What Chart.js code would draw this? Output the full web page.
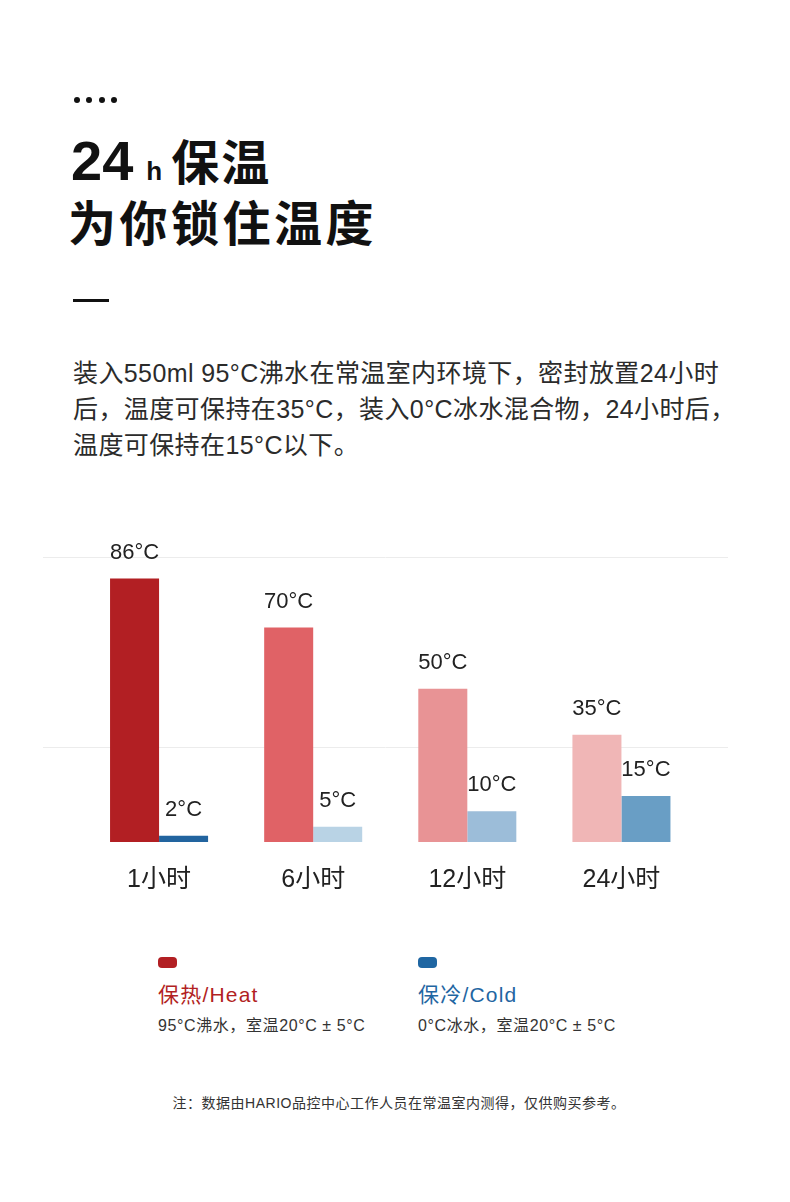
<!DOCTYPE html>
<html lang="zh-CN">
<head>
<meta charset="utf-8">
<title>24h保温</title>
<script src="https://cdn.jsdelivr.net/npm/chart.js@4.4.1/dist/chart.umd.min.js"></script>
<style>
  html, body { margin: 0; padding: 0; background: #fff; }
  body { width: 790px; height: 1202px; position: relative; overflow: hidden;
         font-family: "Liberation Sans", "Noto Sans CJK SC", sans-serif; color: #2b2b2b; }
  .abs { position: absolute; white-space: nowrap; }
  .dot { position: absolute; top: 97px; width: 6px; height: 6px; border-radius: 50%; background: #111; }
  #title1 { left: 71px; top: 124px; height: 60px; color: #111; }
  #title1 .num { font-size: 56px; font-weight: 700; line-height: 56px; }
  #title1 .h { font-size: 26px; font-weight: 700; margin: 0 9px 0 13px; }
  #title1 .cn { font-family: "Noto Sans CJK SC"; font-size: 48px; font-weight: 700; letter-spacing: 2px; }
  #title2 { left: 68px; top: 190px; font-family: "Noto Sans CJK SC"; font-size: 48px; font-weight: 700;
            letter-spacing: 3.5px; line-height: 60px; color: #111; }
  #dash { position: absolute; left: 73px; top: 299px; width: 36px; height: 3px; background: #111; }
  #intro { left: 73px; top: 355px; font-size: 25px; letter-spacing: 0.4px; line-height: 36px; color: #2b2b2b; }
  #chartBox { position: absolute; left: 0; top: 500px; width: 790px; height: 420px; }
  .swatch { position: absolute; top: 957px; width: 19px; height: 11px; border-radius: 4px; }
  .legName { top: 982px; font-size: 21px; letter-spacing: 1.2px; line-height: 26px; }
  .legSub { top: 1016px; font-size: 16px; letter-spacing: 0.6px; line-height: 20px; color: #333; }
  #note { left: 4px; width: 790px; text-align: center; top: 1093px; font-size: 14px; letter-spacing: 0.5px; line-height: 20px; color: #333; }
</style>
</head>
<body>
<div class="dot" style="left:74px"></div>
<div class="dot" style="left:86px"></div>
<div class="dot" style="left:99px"></div>
<div class="dot" style="left:111px"></div>

<div id="title1" class="abs"><span class="num">24</span><span class="h">h</span><span class="cn">保温</span></div>
<div id="title2" class="abs">为你锁住温度</div>
<div id="dash"></div>

<div id="intro" class="abs">装入550ml 95°C沸水在常温室内环境下，密封放置24小时<br>后，温度可保持在35°C，装入0°C冰水混合物，24小时后，<br>温度可保持在15°C以下。</div>

<div id="chartBox"><canvas id="tempChart"></canvas></div>

<div class="swatch" style="left:158px; background:#b21f23"></div>
<div class="abs legName" style="left:158px; color:#b21f23">保热/Heat</div>
<div class="abs legSub" style="left:158px">95°C沸水，室温20°C ± 5°C</div>

<div class="swatch" style="left:418px; background:#1f66a2"></div>
<div class="abs legName" style="left:418px; color:#1f66a2">保冷/Cold</div>
<div class="abs legSub" style="left:418px">0°C冰水，室温20°C ± 5°C</div>

<div id="note" class="abs">注：数据由HARIO品控中心工作人员在常温室内测得，仅供购买参考。</div>

<script>
// data
const categories = ['1小时', '6小时', '12小时', '24小时'];
const heatValues = [86, 70, 50, 35];
const coldValues = [2, 5, 10, 15];
const gridValues = [31, 93];

// one shade per bar, darkest first
const heatColors = ['#b21f23', '#e06266', '#e89395', '#f0b6b6'];
const coldColors = ['#22649f', '#b9d3e5', '#9cbdd9', '#699ec5'];

const labelFont = '22px "Liberation Sans", "Noto Sans CJK SC", sans-serif';

// faint horizontal lines that run wider than the plot area
const wideGrid = {
    id: 'wideGrid',
    beforeDatasetsDraw(chart) {
        const ctx = chart.ctx;
        const y = chart.scales.y;
        ctx.save();
        ctx.strokeStyle = '#ececec';
        ctx.lineWidth = 1;
        gridValues.forEach(v => {
            const py = Math.round(y.getPixelForValue(v)) + 0.5;
            ctx.beginPath();
            ctx.moveTo(43, py);
            ctx.lineTo(728, py);
            ctx.stroke();
        });
        ctx.restore();
    }
};

// value labels above each bar
const valueLabels = {
    id: 'valueLabels',
    afterDatasetsDraw(chart) {
        const ctx = chart.ctx;
        ctx.save();
        ctx.font = labelFont;
        ctx.fillStyle = '#222';
        ctx.textAlign = 'center';
        ctx.textBaseline = 'middle';
        chart.data.datasets.forEach((ds, i) => {
            chart.getDatasetMeta(i).data.forEach((bar, j) => {
                ctx.fillText(ds.data[j] + '°C', bar.x, bar.y - 26);
            });
        });
        ctx.restore();
    }
};

const ctx = document.getElementById('tempChart').getContext('2d');
const tempChart = new Chart(ctx, {
    type: 'bar',
    data: {
        labels: categories,
        datasets: [
            {
                label: '保热/Heat',
                data: heatValues,
                backgroundColor: heatColors,
                borderWidth: 0,
                barPercentage: 1,
                categoryPercentage: 0.636
            },
            {
                label: '保冷/Cold',
                data: coldValues,
                backgroundColor: coldColors,
                borderWidth: 0,
                barPercentage: 1,
                categoryPercentage: 0.636
            }
        ]
    },
    options: {
        responsive: true,
        maintainAspectRatio: false,
        animation: false,
        layout: {
            padding: { left: 82, right: 91.5, top: 57, bottom: 0 }
        },
        scales: {
            x: {
                grid: { display: false, drawTicks: false },
                border: { display: false },
                ticks: {
                    color: '#222',
                    padding: 23,
                    font: { family: '"Liberation Sans", "Noto Sans CJK SC", sans-serif', size: 25 }
                },
                afterFit(scale) { scale.height = 78; }
            },
            y: {
                display: false,
                min: 0,
                max: 93
            }
        },
        plugins: {
            legend: { display: false },
            tooltip: { enabled: false }
        }
    },
    plugins: [wideGrid, valueLabels]
});
</script>
</body>
</html>
